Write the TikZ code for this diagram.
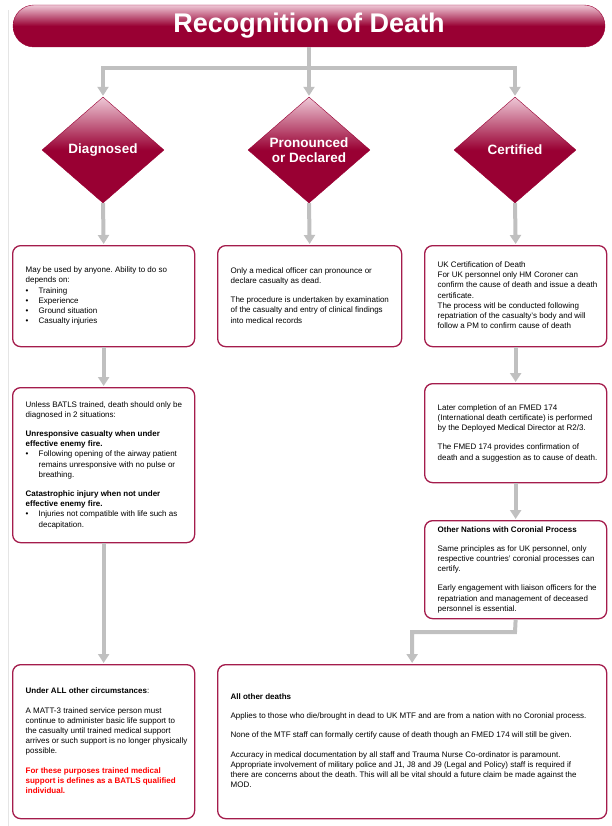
\documentclass[tikz,border=0pt]{standalone}
\usepackage{fontspec}
\setmainfont{Liberation Sans}
\usetikzlibrary{shapes.geometric,arrows.meta}
\frenchspacing

\definecolor{crimson}{RGB}{153,0,51}
\definecolor{rosetop}{RGB}{238,200,214}
\definecolor{boxline}{RGB}{164,28,76}
\definecolor{flowgray}{RGB}{192,192,192}
\definecolor{alertred}{RGB}{255,0,0}

\newcommand{\bull}{\makebox[13pt][l]{\textbullet}}
\newcommand{\hang}{\hspace*{13pt}}
\newcommand{\gap}{\\[9pt]}
\newcommand{\redline}[1]{{\color{alertred}\bfseries #1}}
% lines set as printed, left aligned in a fixed width
\newcommand{\boxlines}[2]{\makebox[#1][l]{\begin{tabular}{@{}l@{}}#2\end{tabular}}}

\tikzset{
  banner/.style={rounded corners=21pt, draw=crimson, top color=rosetop, bottom color=crimson, middle color=crimson,
    minimum width=592pt, minimum height=42pt, text=white, font=\fontsize{27}{29}\selectfont\bfseries},
  choice/.style={diamond, draw=crimson, top color=rosetop, bottom color=crimson, middle color=crimson,
    minimum width=122pt, minimum height=106pt, aspect=1.15, inner sep=0pt, align=center,
    text=white, font=\fontsize{13.5}{15}\selectfont\bfseries},
  infobox/.style={rectangle, rounded corners=8pt, draw=boxline, line width=1.3pt, fill=white,
    inner xsep=13pt, inner ysep=0pt, anchor=north west, font=\fontsize{8}{10.2}\selectfont},
  flow/.style={draw=flowgray, line width=4pt, -{Triangle[width=11pt,length=9pt]}, shorten >=1pt},
  link/.style={draw=flowgray, line width=4pt}
}

\begin{document}
\begin{tikzpicture}[x=1pt,y=-1pt]
\useasboundingbox (0,0) rectangle (612,826);
\draw[gray!20, line width=0.8pt] (8,10) -- (8,826);

% title and the three ways
\node[banner] (title) at (309,26) {Recognition of Death};
\node[choice] (diag) at (103,150) {Diagnosed};
\node[choice] (pron) at (309,150) {Pronounced\\or Declared};
\node[choice] (cert) at (515,150) {Certified};

\coordinate (split) at (309,68);
\coordinate (turn) at (515,632);

% first row
\node[infobox, minimum height=101pt] (diagA) at (12,245) {\boxlines{156pt}{%
May be used by anyone. Ability to do so\\
depends on:\\
\bull Training\\
\bull Experience\\
\bull Ground situation\\
\bull Casualty injuries}};

\node[infobox, minimum height=101pt] (pronA) at (217,245) {\boxlines{158pt}{%
Only a medical officer can pronounce or\\
declare casualty as dead.\gap
The procedure is undertaken by examination\\
of the casualty and entry of clinical findings\\
into medical records}};

\node[infobox, minimum height=101pt] (certA) at (424,245) {\boxlines{156pt}{%
UK Certification of Death\\
For UK personnel only HM Coroner can\\
confirm the cause of death and issue a death\\
certificate.\\
The process witl be conducted following\\
repatriation of the casualty's body and will\\
follow a PM to confirm cause of death}};

% diagnosed column
\node[infobox, minimum height=155pt] (diagB) at (12,387) {\boxlines{156pt}{%
Unless BATLS trained, death should only be\\
diagnosed in 2 situations:\gap
\textbf{Unresponsive casualty when under}\\
\textbf{effective enemy fire.}\\
\bull Following opening of the airway patient\\
\hang remains unresponsive with no pulse or\\
\hang breathing.\gap
\textbf{Catastrophic injury when not under}\\
\textbf{effective enemy fire.}\\
\bull Injuries not compatible with life such as\\
\hang decapitation.}};

\node[infobox, minimum height=154pt] (diagC) at (12,664) {\boxlines{156pt}{%
\textbf{Under ALL other circumstances}:\gap
A MATT-3 trained service person must\\
continue to administer basic life support to\\
the casualty until trained medical support\\
arrives or such support is no longer physically\\
possible.\gap
\redline{For these purposes trained medical}\\
\redline{support is defines as a BATLS qualified}\\
\redline{individual.}}};

% certified column
\node[infobox, minimum height=99pt] (certB) at (424,383) {\boxlines{156pt}{%
Later completion of an FMED 174\\
(International death certificate) is performed\\
by the Deployed Medical Director at R2/3.\gap
The FMED 174 provides confirmation of\\
death and a suggestion as to cause of death.}};

\node[infobox, minimum height=98pt] (certC) at (424,520) {\boxlines{156pt}{%
\textbf{Other Nations with Coronial Process}\gap
Same principles as for UK personnel, only\\
respective countries' coronial processes can\\
certify.\gap
Early engagement with liaison officers for the\\
repatriation and management of deceased\\
personnel is essential.}};

\node[infobox, minimum height=154pt] (other) at (217,664) {\boxlines{363pt}{%
\textbf{All other deaths}\gap
Applies to those who die/brought in dead to UK MTF and are from a nation with no Coronial process.\gap
None of the MTF staff can formally certify cause of death though an FMED 174 will still be given.\gap
Accuracy in medical documentation by all staff and Trauma Nurse Co-ordinator is paramount.\\
Appropriate involvement of military police and J1, J8 and J9 (Legal and Policy) staff is required if\\
there are concerns about the death. This will all be vital should a future claim be made against the\\
MOD.}};

% connectors
\draw[link] (title.south) -- (split);
\draw[flow] (split) -| (diag.north);
\draw[flow] (split) -| (cert.north);
\draw[flow] (split) -- (pron.north);

\draw[flow] (diag.south) -- (diagA.north);
\draw[flow] (pron.south) -- (pronA.north);
\draw[flow] (cert.south) -- (certA.north);

\draw[flow] (diagA.south) -- (diagB.north);
\draw[flow] (diagB.south) -- (diagC.north);
\draw[flow] (certA.south) -- (certB.north);
\draw[flow] (certB.south) -- (certC.north);
\draw[flow] (certC.south) -- (turn) -| (other.north);

\end{tikzpicture}
\end{document}
